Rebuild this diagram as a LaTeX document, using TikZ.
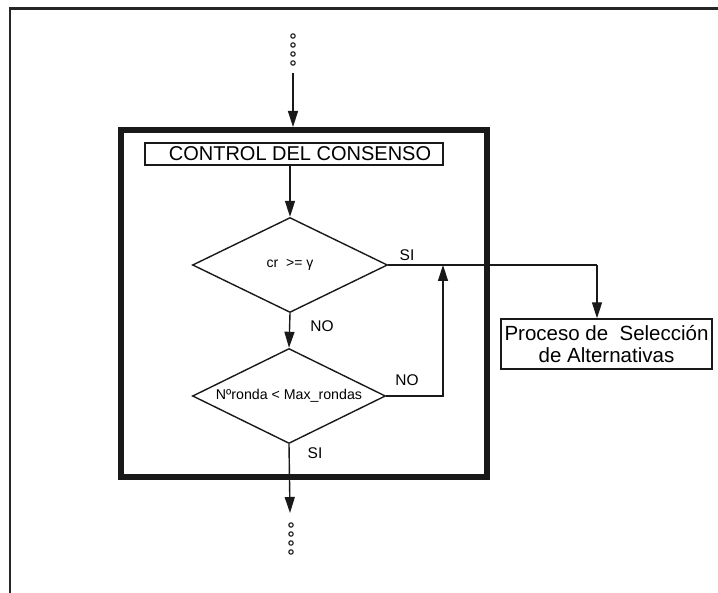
\documentclass[tikz,border=0pt]{standalone}
\usepackage{fontspec}
\setmainfont{Liberation Sans}
\usetikzlibrary{arrows.meta,shapes.geometric,positioning}

\begin{document}
\begin{tikzpicture}[x=1pt, y=-1pt, >={Triangle[length=16pt,width=10pt]},
  linea/.style={line width=1.4pt, black!90},
  caja/.style={draw=black!90, line width=1.4pt, inner sep=0pt},
  decision/.style={diamond, draw=black!90, line width=1.4pt, inner sep=0pt, aspect=2.05},
  etiqueta/.style={font=\fontsize{15.5}{17}\selectfont},
  punto/.style={line width=1.1pt, black!90}]
  \useasboundingbox (0,0) rectangle (718,593);

  % Frame
  \draw[line width=2.4pt, black!85] (10,593) -- (10,8.5) -- (718,8.5);

  % Consensus block
  \node[draw=black!90, line width=6pt, minimum width=366pt, minimum height=347pt, inner sep=0pt] (bloque) at (304,303.5) {};
  \node[caja, minimum width=298pt, minimum height=22pt, font=\fontsize{20}{22}\selectfont] (control) at (294,154) {\hspace*{12pt}CONTROL DEL CONSENSO};

  % Decisions
  \node[decision, minimum width=195pt, minimum height=95pt, font=\fontsize{14}{16}\selectfont] (cr) at (290,265) {cr\ \ >= γ};
  \node[decision, minimum width=193pt, minimum height=95pt, font=\fontsize{14.2}{16}\selectfont] (ronda) at (289,396) {Nºronda < Max\_rondas};

  % Selection process
  \node[caja, minimum width=211pt, minimum height=50pt, align=center, font=\fontsize{20.5}{22}\selectfont] (proceso) at (606.5,344) {Proceso de\ \ Selección\\de Alternativas};

  \coordinate (entrada) at (293,73);
  \coordinate (llegada) at (293,127);
  \coordinate (esquina) at (597,265);
  \coordinate (retorno) at (443,265);
  \coordinate (salida) at (290,513);

  % Arrows
  \draw[linea, ->] (entrada) -- (llegada);
  \draw[linea, ->] (control.south -| cr.north) -- (cr.north);
  \draw[linea] (cr.east) -- (esquina);
  \draw[linea, ->] (esquina) -- (esquina |- proceso.north);
  \draw[linea, ->] (cr.south) -- (ronda.north);
  \draw[linea, ->] (ronda.east) -| (retorno);
  \draw[linea, ->] (ronda.south) -- (salida);

  % Labels
  \node[etiqueta] (si1) at (407,255) {SI};
  \node[etiqueta] (no1) at (322,326) {NO};
  \node[etiqueta] (no2) at (407,380) {NO};
  \node[etiqueta] (si2) at (315,453) {SI};

  % Dots
  \foreach \y in {36,45,54,63}
    \draw[punto] (293,\y) circle (2.2pt);
  \foreach \y in {525,534,543,552}
    \draw[punto] (291,\y) circle (2.2pt);
\end{tikzpicture}
\end{document}
